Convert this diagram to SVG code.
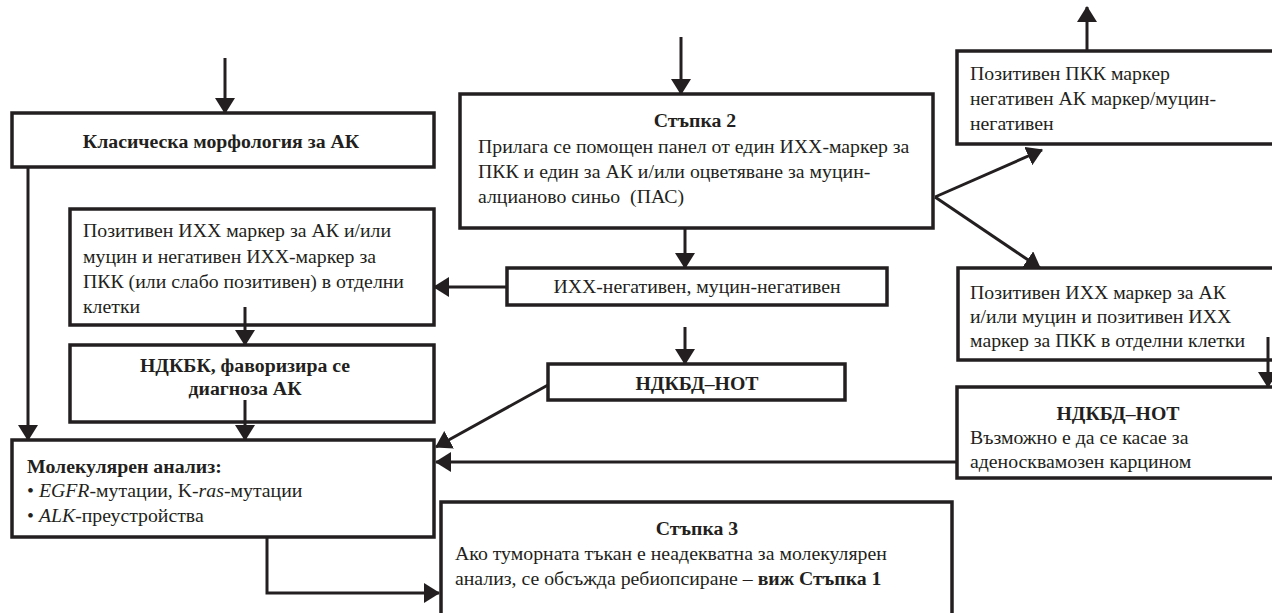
<svg xmlns="http://www.w3.org/2000/svg" width="1272" height="613" viewBox="0 0 1272 613">
<style>
  .box { fill: #fff; stroke: #231f20; stroke-width: 3.5; }
  .t { font-family: "Liberation Serif", "DejaVu Serif", serif; font-size: 19.8px; fill: #231f20; white-space: pre; }
  .b { font-weight: bold; }
  .c { text-anchor: middle; }
  .con line, .con polyline { stroke: #231f20; stroke-width: 3; fill: none; marker-end: url(#ah); }
</style>
<defs>
  <marker id="ah" markerUnits="userSpaceOnUse" viewBox="0 0 16 20" markerWidth="16" markerHeight="20" refX="15" refY="10" orient="auto">
    <path d="M0,0 L16,10 L0,20 z" fill="#231f20"/>
  </marker>
</defs>
<rect width="1272" height="613" fill="#fff"/>

<g id="n-morph">
  <rect class="box" x="12" y="113" width="422" height="54"/>
  <text class="t b c" x="221" y="148">Класическа морфология за АК</text>
</g>

<g id="n-step2">
  <rect class="box" x="460" y="94" width="473" height="134"/>
  <text class="t b c" x="695" y="127">Стъпка 2</text>
  <text class="t" x="478" y="153">Прилага се помощен панел от един ИХХ-маркер за</text>
  <text class="t" x="478" y="178">ПКК и един за АК и/или оцветяване за муцин-</text>
  <text class="t" x="478" y="203">алцианово синьо  (ПАС)</text>
</g>

<g id="n-ihcneg">
  <rect class="box" x="507" y="268" width="380" height="37"/>
  <text class="t c" x="697" y="293">ИХХ-негативен, муцин-негативен</text>
</g>

<g id="n-posak">
  <rect class="box" x="70" y="209" width="364" height="116"/>
  <text class="t" x="83" y="237">Позитивен ИХХ маркер за АК и/или</text>
  <text class="t" x="83" y="263">муцин и негативен ИХХ-маркер за</text>
  <text class="t" x="83" y="288">ПКК (или слабо позитивен) в отделни</text>
  <text class="t" x="83" y="313">клетки</text>
</g>

<g id="n-ndkbk">
  <rect class="box" x="70" y="345" width="364" height="77"/>
  <text class="t b c" x="245" y="372">НДКБК, фаворизира се</text>
  <text class="t b c" x="245" y="395">диагноза АК</text>
</g>

<g id="n-ndkbd-mid">
  <rect class="box" x="548" y="364" width="297" height="36"/>
  <text class="t b c" x="697" y="390">НДКБД–НОТ</text>
</g>

<g id="n-molecular">
  <rect class="box" x="12" y="440" width="422" height="97"/>
  <text class="t b" x="27" y="473">Молекулярен анализ:</text>
  <text class="t" x="27" y="497">• <tspan font-style="italic">EGFR</tspan>-мутации, K-<tspan font-style="italic">ras</tspan>-мутации</text>
  <text class="t" x="27" y="522">• <tspan font-style="italic">ALK</tspan>-преустройства</text>
</g>

<g id="n-step3">
  <rect class="box" x="441" y="502" width="511" height="130"/>
  <text class="t b c" x="697" y="535">Стъпка 3</text>
  <text class="t" x="455" y="560">Ако туморната тъкан е неадекватна за молекулярен</text>
  <text class="t" x="455" y="585">анализ, се обсъжда ребиопсиране – <tspan class="b">виж Стъпка 1</tspan></text>
</g>

<g id="n-pospkk">
  <rect class="box" x="957" y="51" width="330" height="93"/>
  <text class="t" x="970" y="80">Позитивен ПКК маркер</text>
  <text class="t" x="970" y="105">негативен АК маркер/муцин-</text>
  <text class="t" x="970" y="130">негативен</text>
</g>

<g id="n-posboth">
  <rect class="box" x="958" y="268" width="330" height="92"/>
  <text class="t" x="970" y="299">Позитивен ИХХ маркер за АК</text>
  <text class="t" x="970" y="323">и/или муцин и позитивен ИХХ</text>
  <text class="t" x="970" y="347">маркер за ПКК в отделни клетки</text>
</g>

<g id="n-ndkbd-right">
  <rect class="box" x="957" y="387" width="330" height="91"/>
  <text class="t b c" x="1118" y="420">НДКБД–НОТ</text>
  <text class="t" x="970" y="444">Възможно е да се касае за</text>
  <text class="t" x="970" y="468">аденосквамозен карцином</text>
</g>

<g id="connectors" class="con">
  <line x1="225" y1="58" x2="225" y2="113"/>
  <line x1="681" y1="37" x2="681" y2="94"/>
  <line x1="685" y1="228" x2="685" y2="268"/>
  <line x1="507" y1="287" x2="434" y2="287"/>
  <line x1="245" y1="307" x2="245" y2="345"/>
  <line x1="245" y1="400" x2="245" y2="440"/>
  <line x1="28" y1="167" x2="28" y2="440"/>
  <line x1="685" y1="327" x2="685" y2="364"/>
  <line x1="548" y1="385" x2="436" y2="447"/>
  <line x1="957" y1="462" x2="436" y2="462"/>
  <polyline points="267,537 267,593 439,593"/>
  <line x1="935" y1="197" x2="1042" y2="150"/>
  <line x1="935" y1="197" x2="1040" y2="268"/>
  <line x1="1087" y1="51" x2="1087" y2="7"/>
  <line x1="1268" y1="337" x2="1268" y2="387"/>
</g>
</svg>
